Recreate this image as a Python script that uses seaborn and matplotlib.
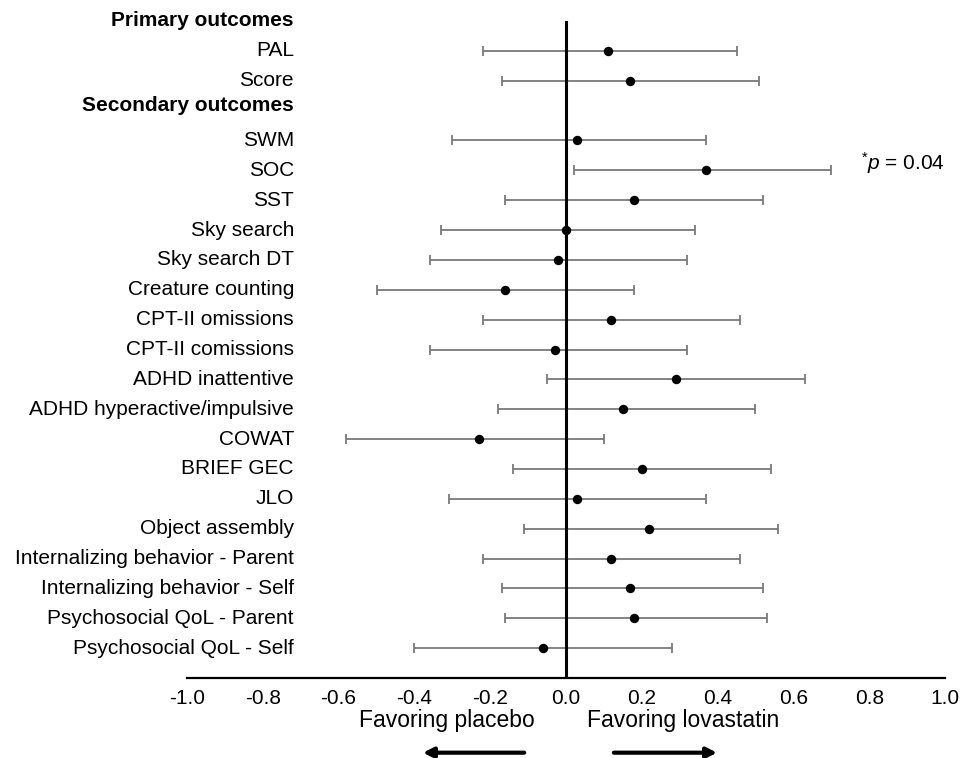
import matplotlib
matplotlib.use("Agg")
import seaborn as sns
import pandas as pd
import numpy as np
import matplotlib.pyplot as plt
import matplotlib.transforms as mtransforms

# effect sizes: estimate with lower / upper limits
primary = ["PAL", "Score"]
primary_est = [0.11, 0.17]
primary_lo = [-0.22, -0.17]
primary_hi = [0.45, 0.51]

secondary = ["SWM", "SOC", "SST", "Sky search", "Sky search DT",
             "Creature counting", "CPT-II omissions", "CPT-II comissions",
             "ADHD inattentive", "ADHD hyperactive/impulsive", "COWAT",
             "BRIEF GEC", "JLO", "Object assembly",
             "Internalizing behavior - Parent", "Internalizing behavior - Self",
             "Psychosocial QoL - Parent", "Psychosocial QoL - Self"]
secondary_est = [0.03, 0.37, 0.18, 0.00, -0.02, -0.16, 0.12, -0.03, 0.29,
                 0.15, -0.23, 0.20, 0.03, 0.22, 0.12, 0.17, 0.18, -0.06]
secondary_lo = [-0.30, 0.02, -0.16, -0.33, -0.36, -0.50, -0.22, -0.36, -0.05,
                -0.18, -0.58, -0.14, -0.31, -0.11, -0.22, -0.17, -0.16, -0.40]
secondary_hi = [0.37, 0.70, 0.52, 0.34, 0.32, 0.18, 0.46, 0.32, 0.63,
                0.50, 0.10, 0.54, 0.37, 0.56, 0.46, 0.52, 0.53, 0.28]

headers = ["Primary outcomes", "Secondary outcomes"]
x_ticks = np.round(np.arange(-1.0, 1.01, 0.2), 1)

# rows: header, then its outcomes one per line
df_p = pd.DataFrame({"outcome": primary, "est": primary_est,
                     "lo": primary_lo, "hi": primary_hi})
df_p["pos"] = np.arange(1, len(df_p) + 1)
df_s = pd.DataFrame({"outcome": secondary, "est": secondary_est,
                     "lo": secondary_lo, "hi": secondary_hi})
df_s["pos"] = np.arange(len(df_p) + 2, len(df_p) + 2 + len(df_s))
df = pd.concat([df_p, df_s], ignore_index=True)
header_pos = [0, len(df_p) + 0.82]

sns.set_style("white")
plt.rcParams['font.family'] = ['Liberation Sans', 'DejaVu Sans']
plt.rcParams['axes.unicode_minus'] = False
plt.rcParams['text.color'] = 'black'
plt.rcParams['xtick.color'] = 'black'
plt.rcParams['xtick.labelcolor'] = 'black'
plt.rcParams['mathtext.fontset'] = 'custom'
plt.rcParams['mathtext.rm'] = 'Liberation Sans'
plt.rcParams['mathtext.it'] = 'Liberation Sans:italic'

fig = plt.figure(figsize=(9.63, 7.58), dpi=100)
ax = fig.add_axes([0.1942, 0.1055, 0.7871, 0.8668])

ax.errorbar(df["est"], df["pos"], xerr=[df["est"] - df["lo"], df["hi"] - df["est"]],
            fmt='none', ecolor='#7a7a7a', elinewidth=1.3, capsize=3.5,
            capthick=1.3, zorder=2)
ax.axvline(0, color='black', lw=2.2, zorder=3)
sns.scatterplot(data=df, x="est", y="pos", color='black', s=46,
                edgecolor='black', linewidth=0, zorder=4, ax=ax, legend=False)

for _, r in df.iterrows():
    ax.text(-0.718, r["pos"], r["outcome"], ha='right', va='center',
            fontsize=15, color='black')
for h, p in zip(headers, header_pos):
    ax.text(-0.718, p, h, ha='right', va='center', fontsize=15,
            fontweight='bold', color='black')

ax.text(1.0, 4.75, r'$^{*}\mathit{p}$ = 0.04', ha='right', va='center',
        fontsize=15, color='black')

ax.set_xlim(-1, 1)
ax.set_ylim(22, 0)
ax.set_xticks(x_ticks)
ax.set_xticklabels([f"{abs(t):.1f}" if t == 0 else f"{t:.1f}" for t in x_ticks],
                   fontsize=15, color='black')
ax.set_yticks([])
ax.set_xlabel("")
ax.set_ylabel("")
for s in ["top", "right", "left"]:
    ax.spines[s].set_visible(False)
ax.spines["bottom"].set_color('black')
ax.spines["bottom"].set_linewidth(1.6)
ax.tick_params(axis='x', direction='out', length=4, width=1.3, color='black', pad=4)

# direction captions and arrows below the axis
trans = mtransforms.blended_transform_factory(ax.transData, fig.transFigure)
ax.text(-0.082, 0.050, "Favoring placebo", transform=trans, ha='right',
        va='center', fontsize=16.5, color='black')
ax.text(0.055, 0.050, "Favoring lovastatin", transform=trans, ha='left',
        va='center', fontsize=16.5, color='black')
ax.annotate('', xy=(-0.385, 0.007), xytext=(-0.103, 0.007), xycoords=trans,
            textcoords=trans, annotation_clip=False,
            arrowprops=dict(arrowstyle='-|>,head_length=0.6,head_width=0.3',
                            color='black', lw=3))
ax.annotate('', xy=(0.406, 0.007), xytext=(0.119, 0.007), xycoords=trans,
            textcoords=trans, annotation_clip=False,
            arrowprops=dict(arrowstyle='-|>,head_length=0.6,head_width=0.3',
                            color='black', lw=3))

fig.savefig("out.png", dpi=100)
